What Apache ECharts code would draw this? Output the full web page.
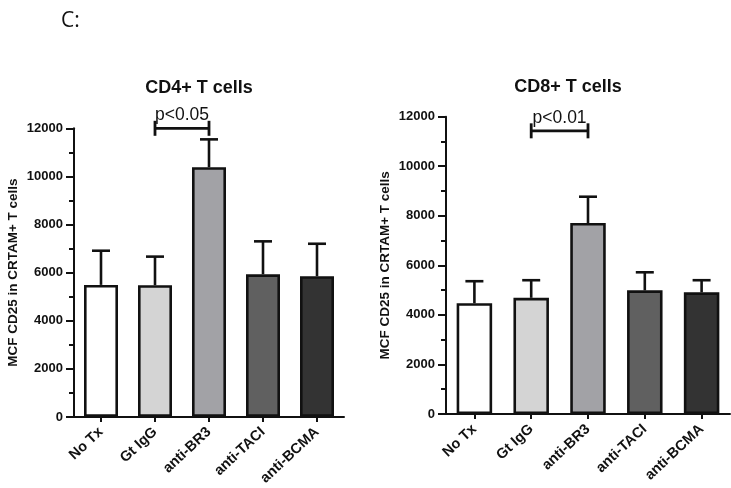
<!DOCTYPE html>
<html><head><meta charset="utf-8">
<script src="https://cdn.jsdelivr.net/npm/echarts@6/dist/echarts.min.js"></script>
<style>html,body{margin:0;padding:0;background:#fff}#c{width:731px;height:488px}</style>
</head><body><div id="c"></div>
<script>
const categories = ['No Tx', 'Gt IgG', 'anti-BR3', 'anti-TACI', 'anti-BCMA'];
const barColors = ['#ffffff', '#d4d4d4', '#a2a2a6', '#606060', '#333333'];
const cd4Mean = [5490, 5475, 10380, 5930, 5850];
const cd4Err = [1420, 1190, 1160, 1370, 1350];
const cd8Mean = [4470, 4690, 7710, 4990, 4910];
const cd8Err = [890, 710, 1060, 730, 490];
const yTicks = [0, 2000, 4000, 6000, 8000, 10000, 12000];
const cd4Sig = [1, 2, 12000];
const cd4SigLabel = 'p<0.05';
const cd8Sig = [1, 2, 11430];
const cd8SigLabel = 'p<0.01';

const FONT = "'Liberation Sans', Arial, sans-serif";
const chart = echarts.init(document.getElementById('c'));

function barData(means) {
  return means.map((v, i) => ({ value: v, itemStyle: { color: barColors[i] } }));
}
function errRender(params, api) {
  const x = api.value(0), y = api.value(1), e = api.value(2);
  const p0 = api.coord([x, y]), p1 = api.coord([x, y + e]);
  const hw = 9;
  const st = { stroke: '#111', lineWidth: 2.6 };
  return { type: 'group', children: [
    { type: 'line', shape: { x1: p0[0], y1: p0[1], x2: p1[0], y2: p1[1] }, style: st },
    { type: 'line', shape: { x1: p1[0] - hw, y1: p1[1], x2: p1[0] + hw, y2: p1[1] }, style: st }
  ]};
}
function sigRender(label) {
  return function (params, api) {
    const y = api.value(2);
    const a = api.coord([api.value(0), y]), b = api.coord([api.value(1), y]);
    const st = { stroke: '#111', lineWidth: 2.8 };
    const h = 7.5;
    return { type: 'group', children: [
      { type: 'line', shape: { x1: a[0], y1: a[1], x2: b[0], y2: b[1] }, style: st },
      { type: 'line', shape: { x1: a[0], y1: a[1] - h, x2: a[0], y2: a[1] + h }, style: st },
      { type: 'line', shape: { x1: b[0], y1: b[1] - h, x2: b[0], y2: b[1] + h }, style: st },
      { type: 'text', x: (a[0] + b[0]) / 2, y: a[1] - 4, style: { text: label, fill: '#111',
        font: '17.5px ' + FONT, textAlign: 'center', textVerticalAlign: 'bottom' } }
    ]};
  };
}
function yAxis(gi) {
  return {
    type: 'value', gridIndex: gi, min: 0, max: 12000, interval: 2000,
    name: 'MCF CD25 in CRTAM+ T cells', nameLocation: 'middle', nameGap: 54, nameRotate: 90,
    nameTextStyle: { fontFamily: FONT, fontWeight: 'bold', fontSize: 13.5, color: '#111' },
    axisLine: { show: true, lineStyle: { color: '#111', width: 2 } },
    axisTick: { show: true, length: 8, lineStyle: { color: '#111', width: 2 } },
    minorTick: { show: true, splitNumber: 2, length: 5, lineStyle: { color: '#111', width: 2 } },
    splitLine: { show: false },
    axisLabel: { fontFamily: FONT, fontWeight: 'bold', fontSize: 13, color: '#111', margin: 11,
      formatter: v => yTicks.includes(v) ? String(v) : '' }
  };
}
function xAxis(gi) {
  return {
    type: 'category', gridIndex: gi, data: categories,
    axisLine: { show: true, lineStyle: { color: '#111', width: 2 } },
    axisTick: { show: true, alignWithLabel: true, length: 5, lineStyle: { color: '#111', width: 2 } },
    axisLabel: { rotate: 43, fontFamily: FONT, fontWeight: 'bold', fontSize: 14.5, color: '#111', margin: 13, interval: 0 }
  };
}
const barStyle = { borderColor: '#111', borderWidth: 2.6 };

chart.setOption({
  animation: false,
  backgroundColor: '#fff',
  title: [
    { text: 'C:', left: 56, top: 6, textStyle: { fontFamily: "'Open Sans', sans-serif", fontWeight: 'normal', fontSize: 21, color: '#111' } },
    { text: 'CD4+ T cells', left: 194, top: 74, textAlign: 'center', textStyle: { fontFamily: FONT, fontWeight: 'bold', fontSize: 18, color: '#111' } },
    { text: 'CD8+ T cells', left: 563, top: 73, textAlign: 'center', textStyle: { fontFamily: FONT, fontWeight: 'bold', fontSize: 18, color: '#111' } }
  ],
  grid: [
    { left: 74, top: 128.3, width: 270, height: 289.4 },
    { left: 446, top: 116.7, width: 284, height: 297.3 }
  ],
  xAxis: [xAxis(0), xAxis(1)],
  yAxis: [yAxis(0), yAxis(1)],
  series: [
    { type: 'bar', xAxisIndex: 0, yAxisIndex: 0, barWidth: 34, data: barData(cd4Mean), itemStyle: barStyle, z: 2 },
    { type: 'bar', xAxisIndex: 1, yAxisIndex: 1, barWidth: 35.5, data: barData(cd8Mean), itemStyle: barStyle, z: 2 },
    { type: 'custom', xAxisIndex: 0, yAxisIndex: 0, renderItem: errRender, z: 3,
      data: cd4Mean.map((v, i) => [i, v, cd4Err[i]]) },
    { type: 'custom', xAxisIndex: 1, yAxisIndex: 1, renderItem: errRender, z: 3,
      data: cd8Mean.map((v, i) => [i, v, cd8Err[i]]) },
    { type: 'custom', xAxisIndex: 0, yAxisIndex: 0, renderItem: sigRender(cd4SigLabel), z: 4, clip: false,
      data: [cd4Sig] },
    { type: 'custom', xAxisIndex: 1, yAxisIndex: 1, renderItem: sigRender(cd8SigLabel), z: 4, clip: false,
      data: [cd8Sig] }
  ]
});
</script></body></html>
